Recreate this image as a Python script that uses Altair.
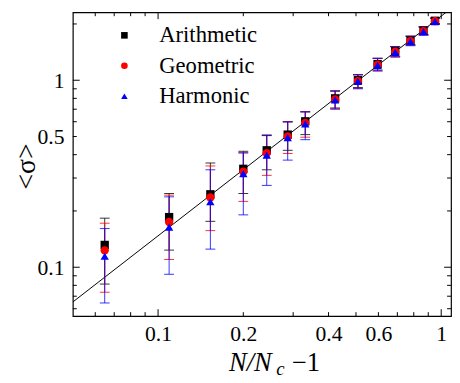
import altair as alt
import pandas as pd

# ---------------- data ----------------
series_names = ["Arithmetic", "Geometric", "Harmonic"]
series_colors = ["#000000", "#ff0000", "#0000ff"]
series_shapes = ["square", "circle", "triangle-up"]

x_vals = [0.0648, 0.1094, 0.153, 0.200, 0.242, 0.287, 0.331,
          0.422, 0.508, 0.596, 0.688, 0.779, 0.866, 0.951]

arith_mean = [0.1316, 0.1854, 0.2455, 0.336, 0.422, 0.512, 0.603,
              0.800, 1.000, 1.22, 1.43, 1.63, 1.84, 2.08]
arith_lo = [0.0813, 0.1235, 0.176, 0.248, 0.332, 0.422, 0.512,
            0.711, 0.914, 1.135, 1.344, 1.55, 1.76, 2.01]
arith_hi = [0.183, 0.248, 0.361, 0.417, 0.510, 0.600, 0.678,
            0.878, 1.07, 1.31, 1.516, 1.72, 1.93, 2.15]

geo_mean = [0.123, 0.1746, 0.236, 0.324, 0.407, 0.500, 0.592,
            0.790, 0.990, 1.21, 1.42, 1.62, 1.83, 2.07]
geo_lo = [0.0735, 0.110, 0.157, 0.225, 0.310, 0.406, 0.496,
          0.705, 0.905, 1.125, 1.335, 1.54, 1.75, 2.00]
geo_hi = [0.172, 0.243, 0.348, 0.409, 0.506, 0.599, 0.678,
          0.875, 1.07, 1.31, 1.51, 1.72, 1.93, 2.15]

harm_mean = [0.1145, 0.164, 0.224, 0.317, 0.398, 0.494, 0.585,
             0.785, 0.985, 1.20, 1.41, 1.61, 1.82, 2.06]
harm_lo = [0.0644, 0.0917, 0.125, 0.1906, 0.274, 0.374, 0.481,
           0.700, 0.900, 1.12, 1.33, 1.53, 1.74, 1.99]
harm_hi = [0.161, 0.238, 0.332, 0.409, 0.506, 0.599, 0.678,
           0.875, 1.07, 1.31, 1.51, 1.72, 1.93, 2.15]

fit_x = [0.05, 1.083]
fit_y = [0.0652, 2.42]

x_tick_minor = [0.06, 0.07, 0.08, 0.09, 0.2, 0.3, 0.4, 0.5, 0.6, 0.7, 0.8, 0.9]
x_tick_major = [0.1, 1.0]
y_tick_minor = [0.06, 0.07, 0.08, 0.09, 0.2, 0.3, 0.4, 0.5, 0.6, 0.7, 0.8, 0.9, 2.0]
y_tick_major = [0.1, 1.0]
x_label_vals = [0.1, 0.2, 0.4, 0.6, 1.0]
y_label_vals = [0.1, 0.5, 1.0]

x_title_main = "N/N"
x_title_sub = "c"
x_title_tail = "\u22121"
y_title = "<\u03c3>"

# ---------------- build ----------------
W, H = 385, 309.3
SERIF = "Liberation Serif"

means = [arith_mean, geo_mean, harm_mean]
los = [arith_lo, geo_lo, harm_lo]
his = [arith_hi, geo_hi, harm_hi]

frames = []
for name, m, lo, hi in zip(series_names, means, los, his):
    frames.append(pd.DataFrame({"x": x_vals, "y": m, "lo": lo, "hi": hi, "series": name}))
df = pd.concat(frames, ignore_index=True)

XS = alt.Scale(type="log", domain=[0.05, 1.083], nice=False)
YS = alt.Scale(type="log", domain=[0.0548, 2.31], nice=False)
XA = alt.Axis(values=x_label_vals, format="~g", ticks=False, domain=False, grid=False,
              labelFont=SERIF, labelFontSize=22, labelColor="black", labelPadding=8,
              labelFlush=False, labelOverlap=False, title=None)
YA = alt.Axis(values=y_label_vals, format="~g", ticks=False, domain=False, grid=False,
              labelFont=SERIF, labelFontSize=22, labelColor="black", labelPadding=9,
              labelFlush=False, labelOverlap=False, title=None)

def X(field):
    return alt.X(f"{field}:Q", scale=XS, axis=XA)

def Y(field):
    return alt.Y(f"{field}:Q", scale=YS, axis=YA)

layers = []

fit_df = pd.DataFrame({"x": fit_x, "y": fit_y})
layers.append(alt.Chart(fit_df).mark_line(color="black", strokeWidth=1, clip=True)
              .encode(x=X("x"), y=Y("y")))

for name, col in zip(series_names, series_colors):
    sub = df[df.series == name]
    layers.append(alt.Chart(sub).mark_rule(color=col, strokeWidth=1, opacity=0.8)
                  .encode(x=X("x"), y=Y("lo"), y2="hi:Q"))
    for f in ("lo", "hi"):
        layers.append(alt.Chart(sub).mark_tick(color=col, orient="horizontal", size=10,
                                                thickness=1, opacity=0.8)
                      .encode(x=X("x"), y=Y(f)))

leg = alt.Legend(title=None, orient="none", legendX=41, legendY=12, padding=0,
                 labelFont=SERIF, labelFontSize=23, labelColor="black",
                 symbolSize=45, symbolStrokeWidth=0, symbolOpacity=1,
                 rowPadding=7, labelOffset=24)
layers.append(alt.Chart(df).mark_point(filled=True, size=72, opacity=1).encode(
    x=X("x"), y=Y("y"),
    color=alt.Color("series:N", scale=alt.Scale(domain=series_names, range=series_colors), legend=leg),
    shape=alt.Shape("series:N", scale=alt.Scale(domain=series_names, range=series_shapes), legend=leg),
))

# inward ticks on all four sides
for vals, ln in ((x_tick_minor, 4), (x_tick_major, 7)):
    tdf = pd.DataFrame({"v": vals})
    layers.append(alt.Chart(tdf).mark_rule(color="black", strokeWidth=1)
                  .encode(x=X("v"), y=alt.value(H), y2=alt.value(H - ln)))
    layers.append(alt.Chart(tdf).mark_rule(color="black", strokeWidth=1)
                  .encode(x=X("v"), y=alt.value(0), y2=alt.value(ln)))
for vals, ln in ((y_tick_minor, 4), (y_tick_major, 7)):
    tdf = pd.DataFrame({"v": vals})
    layers.append(alt.Chart(tdf).mark_rule(color="black", strokeWidth=1)
                  .encode(y=Y("v"), x=alt.value(0), x2=alt.value(ln)))
    layers.append(alt.Chart(tdf).mark_rule(color="black", strokeWidth=1)
                  .encode(y=Y("v"), x=alt.value(W), x2=alt.value(W - ln)))

def label(text, x, y, size, style="normal", angle=0, align="left", baseline="alphabetic"):
    return alt.Chart(pd.DataFrame({"t": [text]})).mark_text(
        font=SERIF, fontSize=size, fontStyle=style, align=align, baseline=baseline,
        angle=angle, color="black").encode(x=alt.value(x), y=alt.value(y), text="t:N")

layers.append(label(x_title_main, 159, 365, 27, "italic"))
layers.append(label(x_title_sub, 207, 369, 19, "italic"))
layers.append(label(x_title_tail, 223, 365, 27))
layers.append(label(y_title, -47, 157, 28, angle=270, align="center", baseline="middle"))

chart = alt.layer(*layers).properties(
    width=W, height=H,
    autosize=alt.AutoSizeParams(type="none"),
    padding={"left": 66, "top": 1, "right": 1, "bottom": 60},
).configure_view(stroke="black", strokeWidth=1.2)

chart.save("out.html", embed_options={"renderer": "svg", "actions": False})
